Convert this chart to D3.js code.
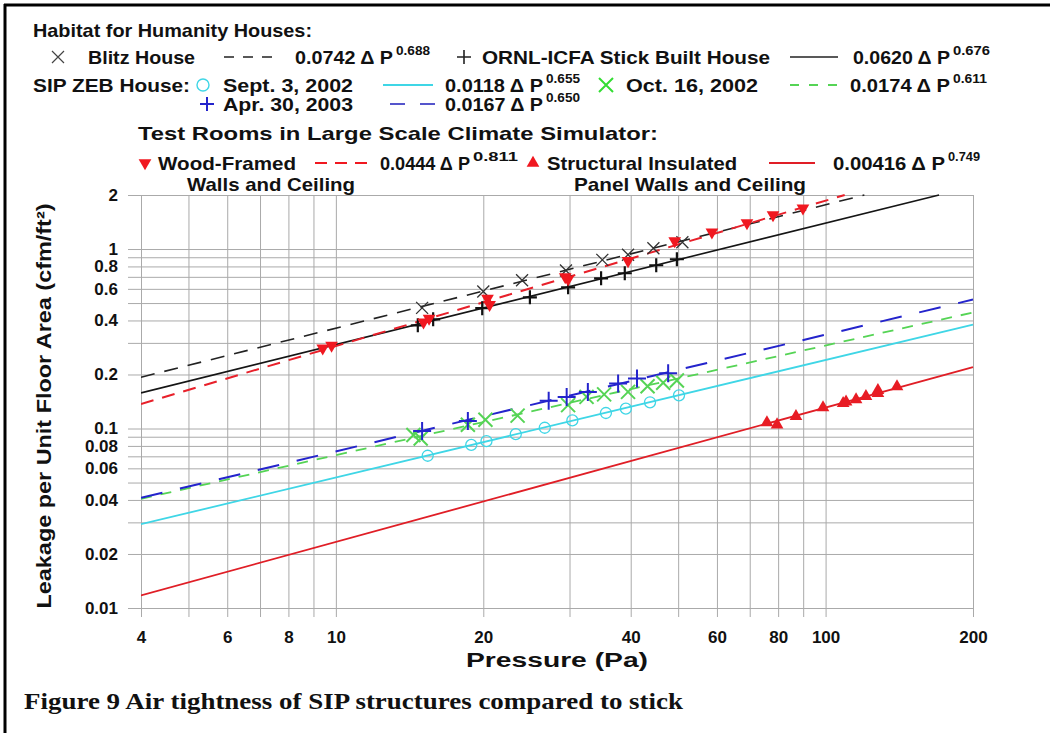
<!DOCTYPE html>
<html><head><meta charset="utf-8">
<script src="https://cdn.jsdelivr.net/npm/d3@7"></script>
<style>
body{margin:0;background:#fff}
svg{display:block}
text{font-family:"Liberation Sans",Arial,sans-serif;font-weight:bold;fill:#111}
</style>
</head><body>
<svg id="c" width="1050" height="733"></svg>
<script>
// ---------- data ----------
const pressureTicks = [4, 6, 8, 10, 20, 40, 60, 80, 100, 200];
const pressureGrid = [4, 5, 6, 7, 8, 9, 10, 20, 30, 40, 50, 60, 70, 80, 90, 100, 200];
const leakageTicks = [2, 1, 0.8, 0.6, 0.4, 0.2, 0.1, 0.08, 0.06, 0.04, 0.02, 0.01];
const leakageGrid = [0.01, 0.02, 0.03, 0.04, 0.05, 0.06, 0.07, 0.08, 0.09, 0.1, 0.2, 0.3, 0.4, 0.5, 0.6, 0.7, 0.8, 0.9, 1, 2];

const blitzP = [15, 20, 24, 29.5, 35, 39.5, 44.5, 51];
const blitzL = [0.47, 0.58, 0.67, 0.76, 0.87, 0.93, 1.01, 1.09];
const ornlP = [14.7, 15.8, 19.9, 24.9, 29.8, 34.8, 38.9, 45.1, 49.7];
const ornlL = [0.376, 0.406, 0.468, 0.538, 0.612, 0.687, 0.733, 0.812, 0.877];
const sept2002P = [15.4, 18.9, 20.3, 23.3, 26.7, 30.4, 35.6, 39.1, 43.8, 50.2];
const sept2002L = [0.0705, 0.081, 0.085, 0.093, 0.101, 0.111, 0.122, 0.129, 0.14, 0.153];
const oct2002P = [14.4, 14.9, 18.6, 20.2, 23.5, 29.8, 32.5, 35.3, 39.5, 43.3, 46.6, 49.7];
const oct2002L = [0.092, 0.088, 0.105, 0.112, 0.118, 0.135, 0.15, 0.155, 0.16, 0.172, 0.18, 0.185];
const apr2003P = [15.0, 18.6, 27.2, 29.6, 32.7, 37.7, 41.2, 47.7];
const apr2003L = [0.097, 0.11, 0.143, 0.15, 0.16, 0.178, 0.19, 0.203];
const woodP = [9.4, 9.8, 15.1, 15.5, 20.4, 20.6, 29.4, 29.8, 39.5, 49.2, 58.6, 69.1, 78.1, 89.9];
const woodL = [0.28, 0.29, 0.391, 0.411, 0.53, 0.49, 0.70, 0.68, 0.86, 1.11, 1.24, 1.40, 1.55, 1.69];
const sipP = [75.9, 79.6, 87.0, 98.8, 108.6, 110.1, 115.4, 120.9, 127.9, 127.9, 139.9];
const sipL = [0.108, 0.105, 0.117, 0.131, 0.138, 0.141, 0.145, 0.151, 0.157, 0.163, 0.171];

// fit-line end points [P, leakage]
const blitzFit = [[4, 0.193], [120, 2]];
const ornlFit = [[4, 0.158], [170.5, 2]];
const woodFit = [[4, 0.137], [109.4, 2]];
const sept2002Fit = [[4, 0.0293], [200, 0.379]];
const oct2002Fit = [[4, 0.0406], [200, 0.443]];
const apr2003Fit = [[4, 0.0411], [200, 0.523]];
const sipFit = [[4, 0.01175], [200, 0.220]];

// ---------- setup ----------
const svg = d3.select('#c');
const x = d3.scaleLog().domain([4, 200]).range([141, 973]);
const y = d3.scaleLog().domain([0.01, 2]).range([608, 195]);

// frame
svg.append('line').attr('x1', 4).attr('x2', 1050).attr('y1', 5).attr('y2', 5).attr('stroke', '#000').attr('stroke-width', 3);
svg.append('line').attr('x1', 5).attr('x2', 5).attr('y1', 4).attr('y2', 733).attr('stroke', '#000').attr('stroke-width', 3);

// grid + axes
const gx = svg.append('g').attr('transform', 'translate(0,617)')
  .call(d3.axisBottom(x).tickValues(pressureGrid).tickSize(-422).tickPadding(14)
    .tickFormat(d => pressureTicks.includes(d) ? String(d) : ''));
gx.select('.domain').remove();
gx.selectAll('line').attr('stroke', '#aaaaaa').attr('stroke-width', 1);
gx.selectAll('text').attr('font-size', 17).attr('fill', '#111');

const gy = svg.append('g').attr('transform', 'translate(128,0)')
  .call(d3.axisLeft(y).tickValues(leakageGrid).tickSize(-845).tickPadding(10)
    .tickFormat(d => leakageTicks.includes(d) ? String(d) : ''));
gy.select('.domain').remove();
gy.selectAll('line').attr('stroke', '#aaaaaa').attr('stroke-width', 1);
gy.selectAll('text').attr('font-size', 17).attr('fill', '#111');

// clip
svg.append('clipPath').attr('id', 'plotclip').append('rect')
  .attr('x', 141).attr('y', 194).attr('width', 833).attr('height', 415);
const plot = svg.append('g').attr('clip-path', 'url(#plotclip)');

const line = d3.line().x(d => x(d[0])).y(d => y(d[1]));
const fits = [
  {d: sept2002Fit, c: '#3fd6e6', w: 1.8, dash: null},
  {d: oct2002Fit, c: '#55d455', w: 1.8, dash: '11,9'},
  {d: apr2003Fit, c: '#2424cc', w: 2, dash: '22,18'},
  {d: sipFit, c: '#e01e26', w: 1.8, dash: null},
  {d: ornlFit, c: '#151515', w: 1.6, dash: null},
  {d: blitzFit, c: '#222', w: 1.6, dash: '14,10'},
  {d: woodFit, c: '#e8202a', w: 2, dash: '13,9'}
];
fits.forEach(f => {
  plot.append('path').attr('d', line(f.d)).attr('fill', 'none')
    .attr('stroke', f.c).attr('stroke-width', f.w).attr('stroke-dasharray', f.dash);
});

// marker shapes
const plusPath = h => `M${-h},0H${h}M0,${-h}V${h}`;
const xPath = h => `M${-h},${-h}L${h},${h}M${-h},${h}L${h},${-h}`;
const triUp = d3.symbol().type(d3.symbolTriangle).size(70)();

function pts(P, L) { return P.map((p, i) => [p, L[i]]); }

plot.selectAll('.sept').data(pts(sept2002P, sept2002L)).join('circle')
  .attr('cx', d => x(d[0])).attr('cy', d => y(d[1])).attr('r', 5.5)
  .attr('fill', 'none').attr('stroke', '#3fd6e6').attr('stroke-width', 1.3);
plot.selectAll('.oct').data(pts(oct2002P, oct2002L)).join('path')
  .attr('transform', d => `translate(${x(d[0])},${y(d[1])})`).attr('d', xPath(7))
  .attr('stroke', '#55d455').attr('stroke-width', 2).attr('fill', 'none');
plot.selectAll('.apr').data(pts(apr2003P, apr2003L)).join('path')
  .attr('transform', d => `translate(${x(d[0])},${y(d[1])})`).attr('d', plusPath(9))
  .attr('stroke', '#2424cc').attr('stroke-width', 2).attr('fill', 'none');
plot.selectAll('.sip').data(pts(sipP, sipL)).join('path')
  .attr('transform', d => `translate(${x(d[0])},${y(d[1])})`).attr('d', triUp)
  .attr('fill', '#e81c24');
plot.selectAll('.blitz').data(pts(blitzP, blitzL)).join('path')
  .attr('transform', d => `translate(${x(d[0])},${y(d[1])})`).attr('d', xPath(6))
  .attr('stroke', '#333').attr('stroke-width', 1.3).attr('fill', 'none');
plot.selectAll('.ornl').data(pts(ornlP, ornlL)).join('path')
  .attr('transform', d => `translate(${x(d[0])},${y(d[1])})`).attr('d', plusPath(7))
  .attr('stroke', '#111').attr('stroke-width', 2.2).attr('fill', 'none');
plot.selectAll('.wood').data(pts(woodP, woodL)).join('path')
  .attr('transform', d => `translate(${x(d[0])},${y(d[1])}) rotate(180)`).attr('d', triUp)
  .attr('fill', '#f01820');

// ---------- text helpers ----------
function txt(x0, cy, s, size, len, anchor) {
  const t = svg.append('text').attr('x', x0).attr('y', cy + 0.358 * size)
    .attr('font-size', size).text(s);
  if (len) t.attr('textLength', len).attr('lengthAdjust', 'spacingAndGlyphs');
  if (anchor) t.attr('text-anchor', anchor);
  return t;
}
function formula(x0, x1, xs1, cy, main, sup) {
  txt(x0, cy, main, 18.5, x1 - x0);
  txt(x1 + 3, cy - 6, sup, 12, xs1 - x1 - 3);
}
function sample(x0, x1, cy, color, w, dash) {
  svg.append('line').attr('x1', x0).attr('x2', x1).attr('y1', cy).attr('y2', cy)
    .attr('stroke', color).attr('stroke-width', w).attr('stroke-dasharray', dash);
}
function mark(cx, cy, d, color, w, fill, rot) {
  svg.append('path').attr('transform', `translate(${cx},${cy})` + (rot ? ` rotate(${rot})` : ''))
    .attr('d', d).attr('stroke', fill ? null : color).attr('stroke-width', w)
    .attr('fill', fill ? color : 'none');
}

// ---------- legend ----------
txt(33, 30, 'Habitat for Humanity Houses:', 19, 279);

// row 1
mark(58, 57, xPath(6), '#444', 1.2);
txt(88, 57, 'Blitz House', 18.5, 107);
sample(224, 272, 57, '#222', 1.6, '10,9');
formula(295, 393, 430, 57, '0.0742 \u0394 P', '0.688');
mark(464, 57, plusPath(7), '#222', 1.6);
txt(482, 57, 'ORNL-ICFA Stick Built House', 18.5, 288);
sample(790, 838, 57, '#222', 1.6, null);
formula(853, 950, 990, 57, '0.0620 \u0394 P', '0.676');

// row 2
txt(33, 85, 'SIP ZEB House:', 18.5, 157);
svg.append('circle').attr('cx', 203).attr('cy', 85).attr('r', 6).attr('fill', 'none')
  .attr('stroke', '#3fd6e6').attr('stroke-width', 1.4);
txt(223, 85, 'Sept. 3, 2002', 18.5, 130);
sample(383, 433, 85, '#3fd6e6', 1.8, null);
formula(445, 543, 580, 85, '0.0118 \u0394 P', '0.655');
mark(606, 85, xPath(7), '#33dd33', 2);
txt(626, 85, 'Oct. 16, 2002', 18.5, 132);
sample(790, 837, 85, '#55d455', 1.8, '9,10');
formula(850, 950, 987, 85, '0.0174 \u0394 P', '0.611');

// row 3
mark(207, 104, plusPath(7), '#2424cc', 2);
txt(223, 104, 'Apr. 30, 2003', 18.5, 130);
sample(390, 435, 104, '#5555cc', 2, '15,15');
formula(445, 543, 580, 104, '0.0167 \u0394 P', '0.650');

// row 4
txt(138, 133, 'Test Rooms in Large Scale Climate Simulator:', 19, 520);

// row 5
mark(145, 163, triUp, '#f01820', 0, true, 180);
txt(158, 163, 'Wood-Framed', 18.5, 138);
sample(315, 367, 163, '#f01820', 2, '12,8');
formula(380, 470, 518, 163, '0.0444 \u0394 P', '0.811');
mark(533, 163, triUp, '#f01820', 0, true);
txt(547, 163, 'Structural Insulated', 18.5, 190);
sample(769, 815, 163, '#e01e26', 2, null);
formula(833, 945, 980, 163, '0.00416 \u0394 P', '0.749');

// row 6
txt(187, 184, 'Walls and Ceiling', 18.5, 168);
txt(574, 184, 'Panel Walls and Ceiling', 18.5, 232);

// axis titles
svg.append('text').attr('transform', 'translate(43,406) rotate(-90)')
  .attr('text-anchor', 'middle').attr('dy', '0.358em').attr('font-size', 21)
  .attr('textLength', 405).attr('lengthAdjust', 'spacingAndGlyphs')
  .text('Leakage per Unit Floor Area (cfm/ft\u00B2)');
txt(466, 660, 'Pressure (Pa)', 20, 182);

// caption
svg.append('text').attr('x', 24).attr('y', 709)
  .style('font-family', '"Liberation Serif","Times New Roman",serif').attr('font-size', 24)
  .attr('textLength', 659).attr('lengthAdjust', 'spacingAndGlyphs')
  .text('Figure 9 Air tightness of SIP structures compared to stick');
</script>
</body></html>
